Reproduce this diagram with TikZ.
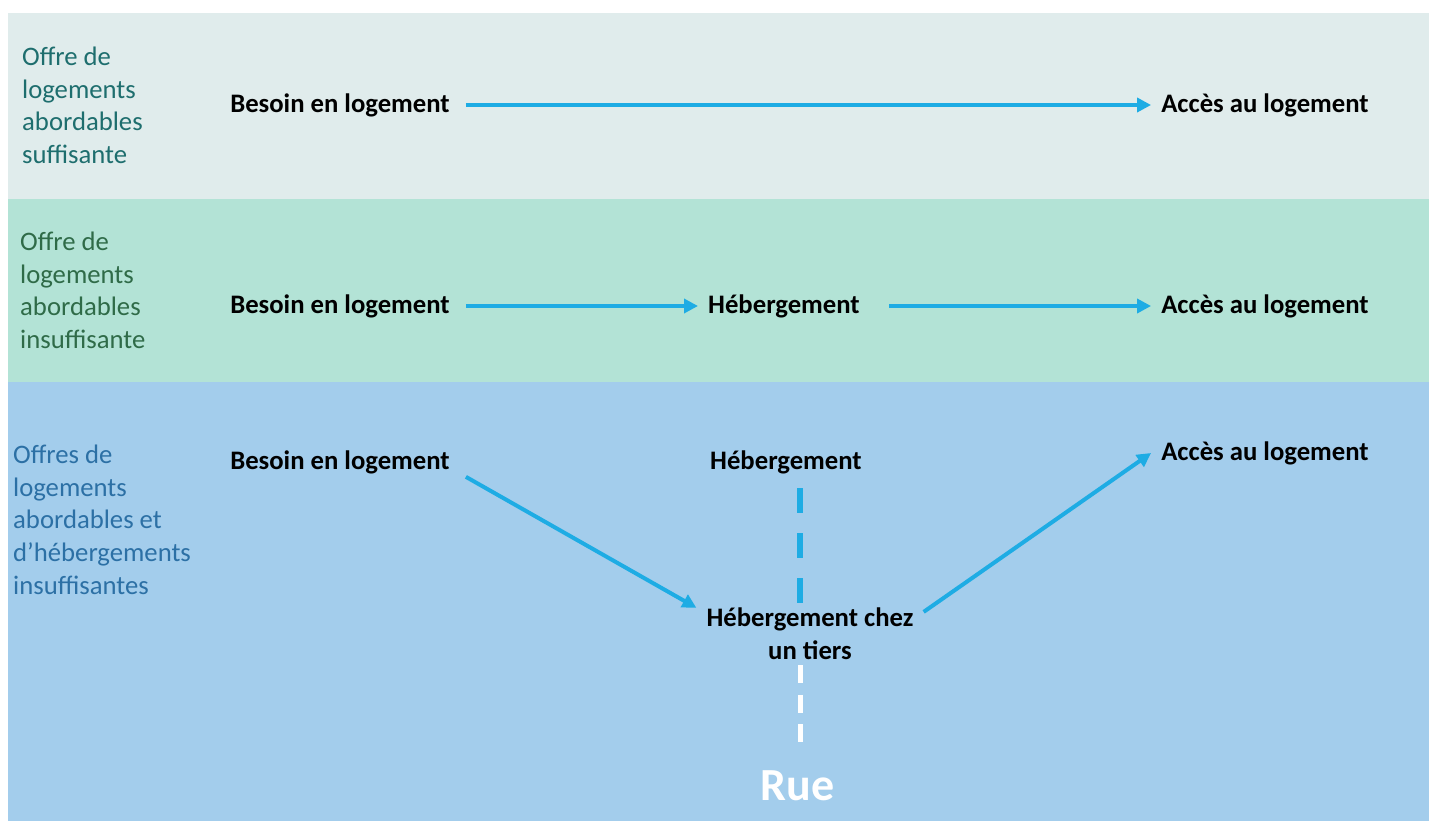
\documentclass[tikz,border=0pt]{standalone}
\usepackage{fontspec}
\setmainfont{Carlito}
\usetikzlibrary{positioning,arrows.meta}

\definecolor{bandtop}{RGB}{224,236,236}
\definecolor{bandmid}{RGB}{179,227,214}
\definecolor{bandlow}{RGB}{163,205,236}
\definecolor{arrowblue}{RGB}{30,172,228}
\definecolor{offertop}{RGB}{30,110,110}
\definecolor{offermid}{RGB}{47,107,72}
\definecolor{offerlow}{RGB}{44,112,165}

\begin{document}
\begin{tikzpicture}[x=1pt,y=-1pt,->,>={Triangle[length=14pt,width=14pt]},on grid,
    stage/.style={inner xsep=10pt, inner ysep=3pt, text=black, align=center,
        font=\fontsize{26.7}{32.6}\selectfont\bfseries},
    offer/.style={anchor=north west, inner sep=0pt, align=left,
        font=\fontsize{26.7}{32.6}\selectfont},
    flow/.style={color=arrowblue, line width=4pt},
    gapline/.style={-, line width=6pt, draw=arrowblue, dash pattern=on 25pt off 20pt},
    streetline/.style={-, line width=5pt, draw=white, dash pattern=on 18pt off 11.5pt}]

    \useasboundingbox (0,0) rectangle (1429,821);
    \fill[white] (0,0) rectangle (1429,821);
    \fill[bandtop] (8,13) rectangle (1429,199);
    \fill[bandmid] (8,199) rectangle (1429,382);
    \fill[bandlow] (8,382) rectangle (1429,821);

    %------------------------------------------------

    \node[offer, text=offertop] (offer1) at (22,47)
    { Offre de\\logements\\abordables\\suffisante };

    \node[stage] (besoin1) at (343,105)
    { Besoin en logement };

    \node[stage, right=925pt of besoin1] (acces1)
    { Accès au logement };

    %------------------------------------------------

    \node[offer, text=offermid] (offer2) at (20,232)
    { Offre de\\logements\\abordables\\insuffisante };

    \node[stage, below=201pt of besoin1] (besoin2)
    { Besoin en logement };

    \node[stage, right=444pt of besoin2] (heb2)
    { Hébergement };

    \node[stage, right=925pt of besoin2] (acces2)
    { Accès au logement };

    %------------------------------------------------

    \node[offer, text=offerlow] (offer3) at (13,445)
    { Offres de\\logements\\abordables et\\d’hébergements\\insuffisantes };

    \node[stage, below=357pt of besoin1] (besoin3)
    { Besoin en logement };

    \node[stage, right=446pt of besoin3] (heb3)
    { Hébergement };

    \node[stage, below right=172pt and 21pt of heb3] (tiers)
    { Hébergement chez\\un tiers };

    \node[stage, above right=9pt and 925pt of besoin3] (acces3)
    { Accès au logement };

    \node[stage, text=white, font=\fontsize{46}{50}\selectfont\bfseries,
        below right=324pt and 14pt of heb3] (rue)
    { Rue };

    \coordinate (gaptop) at (800,488);
    \coordinate (gapbot) at (800,603);
    \coordinate (streettop) at (800,665);
    \coordinate (streetbot) at (800,742);

    %------------------------------------------------

    \path[flow]
    {
        (besoin1) edge (acces1)

        (besoin2) edge (heb2)
        (heb2) edge[shorten <=13pt] (acces2)

        (besoin3.south east) edge (tiers.167)
        (tiers.11) edge (acces3.west)
    };

    \draw[gapline] (gaptop) -- (gapbot);
    \draw[streetline] (streettop) -- (streetbot);
\end{tikzpicture}
\end{document}
